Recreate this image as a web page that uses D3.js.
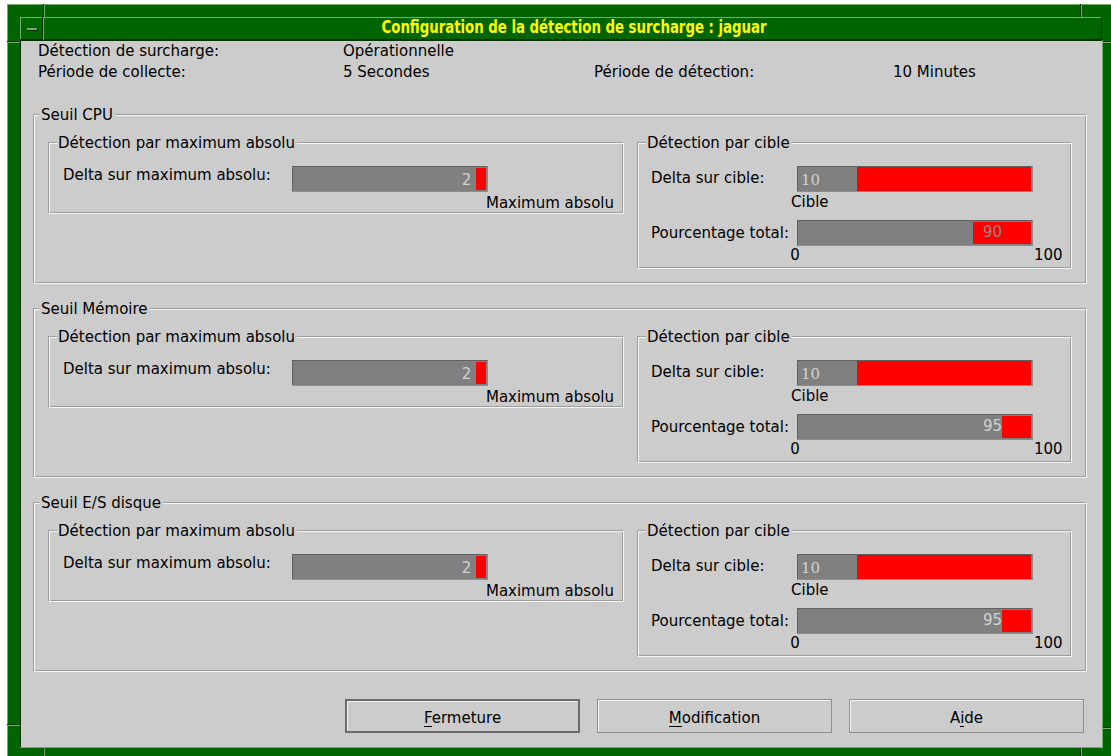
<!DOCTYPE html>
<html>
<head>
<meta charset="utf-8">
<script src="https://d3js.org/d3.v7.min.js"></script>
<style>
  body { margin: 0; background: #fff; }
  svg text { font-family: "DejaVu Sans", sans-serif; font-size: 15px; fill: #000; }
</style>
</head>
<body>
<script>
const titre = "Configuration de la détection de surcharge : jaguar";
const infoLabels = ["Détection de surcharge:", "Période de collecte:", "Période de détection:"];
const infoValues = ["Opérationnelle", "5 Secondes", "10 Minutes"];
const seuils = ["Seuil CPU", "Seuil Mémoire", "Seuil E/S disque"];
const deltaMax = [2, 2, 2];          // Delta sur maximum absolu
const deltaCible = [10, 10, 10];     // Delta sur cible
const pourcentage = [90, 95, 95];    // Pourcentage total
const pctTicks = [0, 100];
const boutons = ["Fermeture", "Modification", "Aide"];
const mnemos = [0, 0, 1];            // index of underlined letter

const width = 1111, height = 756;
const gris = "#cccccc", green = "#006400", greenLight = "#74aa74", greenDark = "#002e00";

const svg = d3.select("body").append("svg")
    .attr("width", width)
    .attr("height", height)
    .attr("shape-rendering", "crispEdges");

function hline(g, x1, x2, y, c) {
    g.append("line").attr("x1", x1).attr("x2", x2).attr("y1", y).attr("y2", y).attr("stroke", c);
}
function vline(g, x, y1, y2, c) {
    g.append("line").attr("x1", x).attr("x2", x).attr("y1", y1).attr("y2", y2).attr("stroke", c);
}

// ---- window manager frame ----
svg.append("rect").attr("x", 7).attr("y", 4).attr("width", 1110).attr("height", 760).attr("fill", green);
hline(svg, 7, width, 4.5, greenLight);
vline(svg, 7.5, 4, height, greenLight);
// resize corner notches
vline(svg, 43.5, 4, 17, greenDark); vline(svg, 44.5, 4, 17, greenLight);
vline(svg, 1080.5, 4, 17, greenDark); vline(svg, 1081.5, 4, 17, greenLight);
hline(svg, 7, 20, 41.5, greenDark); hline(svg, 7, 20, 42.5, greenLight);
hline(svg, 1102, width, 41.5, greenDark); hline(svg, 1102, width, 42.5, greenLight);
hline(svg, 7, 20, 724.5, greenDark); hline(svg, 7, 20, 725.5, greenLight);
hline(svg, 1102, width, 727.5, greenDark); hline(svg, 1102, width, 728.5, greenLight);
vline(svg, 43.5, 748, height, greenDark); vline(svg, 44.5, 748, height, greenLight);
vline(svg, 1080.5, 748, height, greenDark); vline(svg, 1081.5, 748, height, greenLight);

// title bar
svg.append("rect").attr("x", 20).attr("y", 17).attr("width", 1082).attr("height", 23).attr("fill", green);
hline(svg, 20, 1102, 17.5, greenLight);
vline(svg, 20.5, 17, 40, greenLight);
hline(svg, 20, 1102, 39.5, greenDark);
vline(svg, 1101.5, 17, 40, greenDark);
// window menu button
vline(svg, 42.5, 17, 40, greenDark);
vline(svg, 43.5, 17, 40, greenLight);
svg.append("rect").attr("x", 27).attr("y", 28).attr("width", 10).attr("height", 2).attr("fill", greenLight);
hline(svg, 27, 38, 30.5, greenDark);
vline(svg, 37.5, 28, 31, greenDark);

svg.append("text")
    .attr("x", 574).attr("y", 33)
    .attr("text-anchor", "middle")
    .attr("textLength", 385)
    .attr("lengthAdjust", "spacingAndGlyphs")
    .style("font-family", "'Liberation Sans Narrow', 'DejaVu Sans Condensed', sans-serif")
    .style("font-weight", "bold")
    .style("font-size", "17px")
    .style("fill", "#ffff00")
    .text(titre);

// client area
svg.append("rect").attr("x", 21).attr("y", 41).attr("width", 1081).attr("height", 706).attr("fill", gris);
vline(svg, 20.5, 40, 748, greenDark);
hline(svg, 20, 1102, 40.5, greenDark);
vline(svg, 1102.5, 40, 748, greenLight);
hline(svg, 20, 1103, 747.5, greenLight);

// ---- header information ----
const infoX = [38, 38, 594];
const infoY = [56, 77, 77];
const valX = [343, 343, 893];
svg.selectAll("text.info").data(infoLabels).enter().append("text")
    .attr("class", "info")
    .attr("x", (d, i) => infoX[i]).attr("y", (d, i) => infoY[i])
    .text(d => d);
svg.selectAll("text.infoval").data(infoValues).enter().append("text")
    .attr("class", "infoval")
    .attr("x", (d, i) => valX[i]).attr("y", (d, i) => infoY[i])
    .text(d => d);

// ---- etched frames with titles ----
function etched(g, x, y, w, h) {
    g.append("rect").attr("x", x + 0.5).attr("y", y + 0.5).attr("width", w).attr("height", h)
        .attr("fill", "none").attr("stroke", "#9c9c9c");
    g.append("rect").attr("x", x + 1.5).attr("y", y + 1.5).attr("width", w).attr("height", h)
        .attr("fill", "none").attr("stroke", "#f6f6f6");
}
function frameTitle(g, x, y, label) {
    const t = g.append("text").attr("x", x).attr("y", y + 6).text(label);
    const w = t.node().getComputedTextLength();
    g.insert("rect", () => t.node())
        .attr("x", x - 1).attr("y", y - 2).attr("width", w + 3).attr("height", 6)
        .attr("fill", gris);
}
function trough(g, x0, x1, y, h) {
    g.append("rect").attr("x", x0).attr("y", y).attr("width", x1 - x0).attr("height", h).attr("fill", "#808080");
    hline(g, x0, x1, y + 0.5, "#606060");
    vline(g, x0 + 0.5, y, y + h, "#606060");
    hline(g, x0, x1, y + h - 0.5, "#8c8c8c");
    vline(g, x1 - 0.5, y, y + h, "#8c8c8c");
}

const groupY = d3.scalePoint().domain(seuils).range([114, 502]);

// scales for the three sliders
const maxScale = d3.scaleLinear().domain([0, 40]).range([294, 486]);
const cibleScale = d3.scaleLinear().domain([0, 40]).range([799, 1031]);
const pctScale = d3.scaleLinear().domain([60, 100]).range([799, 1031]);
const pctAxis = d3.scaleLinear().domain([0, 100]).range([795, 1033]);

const groups = svg.selectAll("g.seuil").data(seuils).enter().append("g")
    .attr("class", "seuil");

groups.each(function (s, i) {
    const g = d3.select(this);
    const y0 = groupY(s);

    etched(g, 33, y0, 1052, 168);
    frameTitle(g, 41, y0, s);

    // left: maximum absolu
    etched(g, 48, y0 + 28, 574, 70);
    frameTitle(g, 58, y0 + 28, "Détection par maximum absolu");
    g.append("text").attr("x", 63).attr("y", y0 + 66).text("Delta sur maximum absolu:");
    trough(g, 292, 488, y0 + 52, 26);
    g.append("rect")
        .attr("x", maxScale(40 - deltaMax[i])).attr("y", y0 + 54)
        .attr("width", maxScale(40) - maxScale(40 - deltaMax[i])).attr("height", 22)
        .attr("fill", "#ff0000");
    g.append("text").attr("x", maxScale(40 - deltaMax[i]) - 5).attr("y", y0 + 71)
        .attr("text-anchor", "end").style("fill", "#d2d2d2").style("font-size", "15px")
        .text(deltaMax[i]);
    g.append("text").attr("x", 614).attr("y", y0 + 94).attr("text-anchor", "end").text("Maximum absolu");

    // right: cible
    etched(g, 637, y0 + 28, 433, 125);
    frameTitle(g, 647, y0 + 28, "Détection par cible");
    g.append("text").attr("x", 651).attr("y", y0 + 69).text("Delta sur cible:");
    trough(g, 797, 1033, y0 + 52, 26);
    g.append("rect")
        .attr("x", cibleScale(deltaCible[i])).attr("y", y0 + 53)
        .attr("width", cibleScale(40) - cibleScale(deltaCible[i])).attr("height", 24)
        .attr("fill", "#ff0000");
    g.append("text").attr("x", 801).attr("y", y0 + 71)
        .style("fill", "#d2d2d2").style("font-family", "'DejaVu Serif', serif").style("font-size", "15px")
        .text(deltaCible[i]);
    g.append("text").attr("x", 791).attr("y", y0 + 93).text("Cible");

    g.append("text").attr("x", 651).attr("y", y0 + 124).text("Pourcentage total:");
    trough(g, 797, 1033, y0 + 106, 26);
    g.append("rect")
        .attr("x", pctScale(pourcentage[i])).attr("y", y0 + 108)
        .attr("width", pctScale(100) - pctScale(pourcentage[i])).attr("height", 22)
        .attr("fill", "#ff0000");
    const surRouge = pctScale(pourcentage[i]) < 985;
    g.append("text").attr("x", 1002).attr("y", y0 + 123)
        .attr("text-anchor", "end").style("font-size", "15px")
        .style("fill", surRouge ? "#a08080" : "#d2d2d2")
        .text(pourcentage[i]);
    g.selectAll("text.tick").data(pctTicks).enter().append("text")
        .attr("class", "tick")
        .attr("x", d => d === 0 ? pctAxis(d) : pctAxis(d) + 1)
        .attr("y", y0 + 146)
        .attr("text-anchor", d => d === 0 ? "middle" : "start")
        .text(d => d);
});

// ---- buttons ----
const btnX = d3.scaleBand().domain(boutons).range([345, 1084]).paddingInner(0.0675);
const btnTop = 699, btnH = 34;
const btn = svg.selectAll("g.btn").data(boutons).enter().append("g").attr("class", "btn");
btn.each(function (b, i) {
    const g = d3.select(this);
    const x = btnX(b), w = btnX.bandwidth();
    if (i === 0) {
        g.append("rect").attr("x", x + 1).attr("y", btnTop + 1).attr("width", w - 2).attr("height", btnH - 2)
            .attr("fill", "none").attr("stroke", "#6c6c6c").attr("stroke-width", 2);
        hline(g, x + 3, x + w - 3, btnTop + 2.5, "#f4f4f4");
        vline(g, x + 2.5, btnTop + 2, btnTop + btnH - 2, "#f4f4f4");
    } else {
        g.append("rect").attr("x", x + 0.5).attr("y", btnTop + 0.5).attr("width", w - 1).attr("height", btnH - 1)
            .attr("fill", "none").attr("stroke", "#8e8e8e");
        hline(g, x + 1, x + w - 2, btnTop + 1.5, "#f4f4f4");
        vline(g, x + 1.5, btnTop + 1, btnTop + btnH - 2, "#f4f4f4");
    }
    const t = g.append("text").attr("x", x + w / 2).attr("y", btnTop + 24)
        .attr("text-anchor", "middle").text(b);
    const k = mnemos[i];
    const a = t.node().getStartPositionOfChar(k).x;
    const e = t.node().getEndPositionOfChar(k).x;
    hline(g, a, e, btnTop + 27.5, "#000");
});
</script>
</body>
</html>
